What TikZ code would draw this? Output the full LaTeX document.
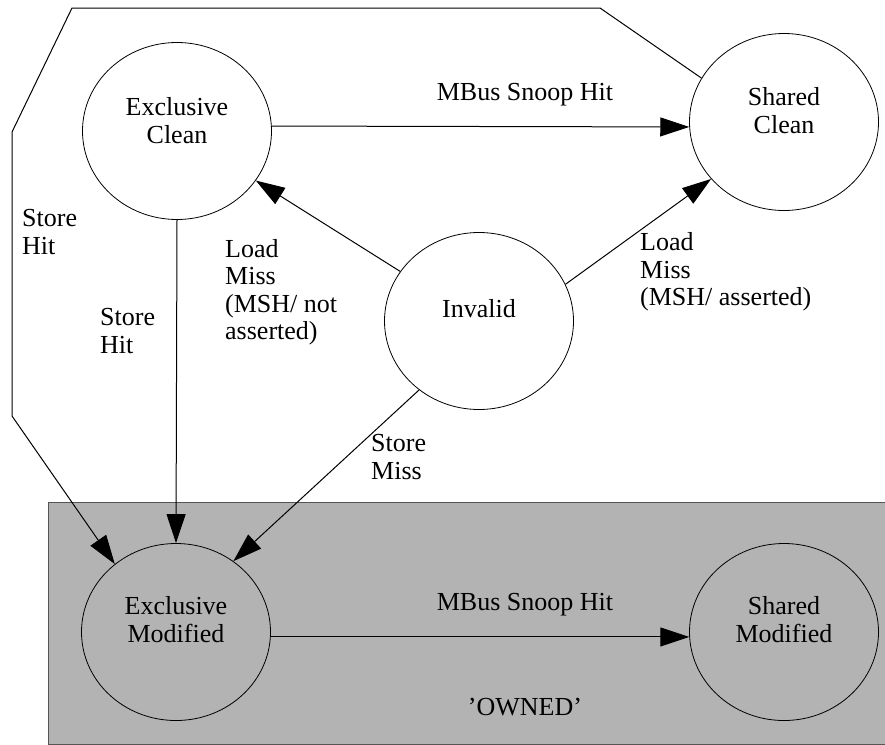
\documentclass[tikz,border=0pt]{standalone}
\usepackage{fontspec}
\setmainfont{Liberation Serif}
\usetikzlibrary{arrows.meta,shapes.geometric}
\definecolor{ownedfill}{HTML}{B3B3B3}
\definecolor{ownededge}{HTML}{555555}
\tikzset{
  state/.style={ellipse, draw, line width=0.8pt, minimum width=189pt, minimum height=177pt, inner sep=0pt},
  statetext/.style={align=center, font=\fontsize{26}{28}\selectfont},
  lbl/.style={align=left, anchor=west, font=\fontsize{26}{27.5}\selectfont, inner sep=0pt},
  trans/.style={line width=1pt, -{Triangle[length=29pt,width=19pt]}},
}
\begin{document}
\begin{tikzpicture}[x=1pt,y=-1pt]
\useasboundingbox (0,0) rectangle (885,744);

% the 'owned' region
\node[draw=ownededge, fill=ownedfill, line width=1pt, minimum width=837pt, minimum height=242pt, anchor=north west, inner sep=0pt] (owned) at (48,502) {};

% states
\node[state] (ec)  at (177,131) {};
\node[state] (sc)  at (784,122) {};
\node[state] (inv) at (479,321) {};
\node[state] (em)  at (176,632) {};
\node[state] (sm)  at (784,632) {};

\node[statetext] (ect)  at (177,121) {Exclusive\\Clean};
\node[statetext] (sct)  at (784,111) {Shared\\Clean};
\node[statetext] (invt) at (479,309) {Invalid};
\node[statetext] (emt)  at (176,620) {Exclusive\\Modified};
\node[statetext] (smt)  at (784,620) {Shared\\Modified};
\node[statetext] (ownt) at (525,707) {'OWNED'};

% bend points of the store-hit path from shared clean
\coordinate (p1) at (600,8);
\coordinate (p2) at (72,8);
\coordinate (p3) at (12,132);
\coordinate (p4) at (12,416);

% transitions
\draw[trans] (ec.3) -- (sc.183);
\draw[trans] (inv) -- (ec);
\draw[trans] (inv.23) -- (sc.218);
\draw[trans] (inv.229) -- (em.51);
\draw[trans] (ec.south) -- (em.north);
\draw[trans] (sc.152) -- (p1) -- (p2) -- (p3) -- (p4) -- (em.132);
\draw[trans] (em.-3) -- (sm.183);

% transition labels
\node[statetext] (l1) at (525,95) {MBus Snoop Hit};
\node[statetext] (l2) at (525,605) {MBus Snoop Hit};
\node[lbl] (l3) at (22,232) {Store\\Hit};
\node[lbl] (l4) at (100,331) {Store\\Hit};
\node[lbl] (l5) at (225,292) {Load\\Miss\\(MSH/ not\\asserted)};
\node[lbl] (l6) at (640,272) {Load\\Miss\\(MSH/ asserted)};
\node[lbl] (l7) at (371,457) {Store\\Miss};
\end{tikzpicture}
\end{document}
